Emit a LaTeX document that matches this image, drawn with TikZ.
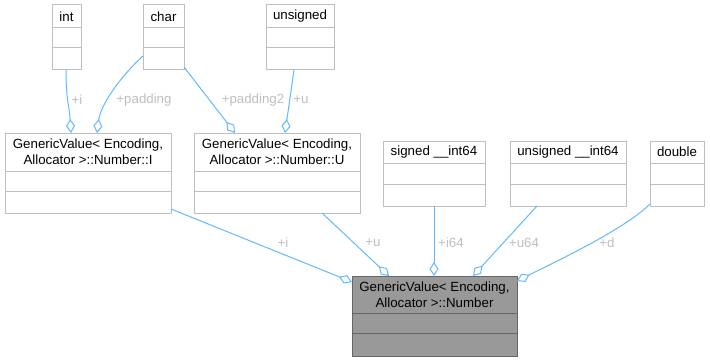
\documentclass[tikz,border=0pt]{standalone}
\usepackage{fontspec}
\setmainfont{Liberation Sans}
\usetikzlibrary{arrows.meta,calc}
\definecolor{edgeblue}{HTML}{63B8FF}
\definecolor{boxgrey}{HTML}{BFBFBF}
\definecolor{lblgrey}{HTML}{BEBEBE}
\definecolor{darkfill}{HTML}{999999}
\definecolor{darkline}{HTML}{666666}
\tikzset{
  cls/.style={draw=boxgrey, fill=white, line width=1pt, inner sep=0pt, outer sep=0pt},
  cls line/.style={draw=boxgrey, line width=1pt},
  clsdark/.style={draw=darkline, fill=darkfill, line width=1pt, inner sep=0pt, outer sep=0pt},
  clsdark line/.style={draw=darkline, line width=1pt},
  ttl/.style={inner sep=0pt, align=center, font=\fontsize{13.3}{16}\selectfont},
  lbl/.style={inner sep=0pt, text=lblgrey, font=\fontsize{13.3}{16}\selectfont},
  agg/.style={draw=edgeblue, line width=1pt,
    -{Diamond[open, length=14pt, width=9pt, line width=1pt]}},
}
% class box: style, name, x, y, width, height, title height, compartment height, title
\newcommand\umlclass[9]{%
  \node[#1, minimum width=#5, minimum height=#6, anchor=north west] (#2) at (#3,#4) {};
  \draw[#1 line] ($(#2.north west)+(0,#7)$) -- ($(#2.north east)+(0,#7)$);
  \draw[#1 line] ($(#2.north west)+(0,#7+#8)$) -- ($(#2.north east)+(0,#7+#8)$);
  \node[ttl] (#2-t) at ($(#2.north)+(0,#7/2)$) {#9};
}
\begin{document}
\begin{tikzpicture}[x=1pt, y=-1pt]
\useasboundingbox (0,0) rectangle (710,361);

% member types
\umlclass{cls}{int}{52}{5}{29}{65}{23}{20}{int}
\umlclass{cls}{char}{143}{5}{41}{65}{23}{20}{char}
\umlclass{cls}{uns}{266}{5}{68}{65}{23}{20}{unsigned}
\umlclass{cls}{numI}{5}{133}{166}{80}{38}{20}{GenericValue< Encoding,\\Allocator >::Number::I}
\umlclass{cls}{numU}{194}{133}{166}{80}{38}{20}{GenericValue< Encoding,\\Allocator >::Number::U}
\umlclass{cls}{si64}{383}{141}{102}{65}{22}{21}{signed \_\_int64}
\umlclass{cls}{ui64}{510}{141}{116}{65}{22}{21}{unsigned \_\_int64}
\umlclass{cls}{dbl}{650}{141}{54}{65}{22}{21}{double}
% the union itself
\umlclass{clsdark}{num}{352}{276}{165}{80}{37}{20}{GenericValue< Encoding,\\Allocator >::Number}

% members of Number::I
\draw[agg] ($(int.south west)+(14,0)$) .. controls +(0,30) and +(-2,-30) .. ($(numI.north west)+(66,0)$);
\draw[agg] ($(char.north west)+(0,51)$) .. controls +(-20,18) and +(4,-30) .. ($(numI.north west)+(92,0)$);
% members of Number::U
\draw[agg] ($(char.south east)+(0,-3)$) -- ($(numU.north west)+(41,0)$);
\draw[agg] ($(uns.south west)+(28,0)$) -- ($(numU.north west)+(91,0)$);
% members of Number
\draw[agg] ($(numI.south east)+(0,-4)$) -- ($(num.north west)+(0,6)$);
\draw[agg] ($(numU.south west)+(128,0)$) -- ($(num.north west)+(37,0)$);
\draw[agg] (si64.south) -- ($(num.north west)+(82,0)$);
\draw[agg] ($(ui64.south west)+(27,0)$) -- ($(num.north west)+(121,0)$);
\draw[agg] ($(dbl.south west)+(0,-2)$) .. controls +(-25,25) and +(40,-20) .. ($(num.north east)+(0,5)$);

% edge labels
\node[lbl] (l1) at (77,100) {+i};
\node[lbl] (l2) at (144,100) {+padding};
\node[lbl] (l3) at (253,100) {+padding2};
\node[lbl] (l4) at (301,100) {+u};
\node[lbl] (l5) at (283,243) {+i};
\node[lbl] (l6) at (373,243) {+u};
\node[lbl] (l7) at (451,243) {+i64};
\node[lbl] (l8) at (524,243) {+u64};
\node[lbl] (l9) at (607,243) {+d};
\end{tikzpicture}
\end{document}
